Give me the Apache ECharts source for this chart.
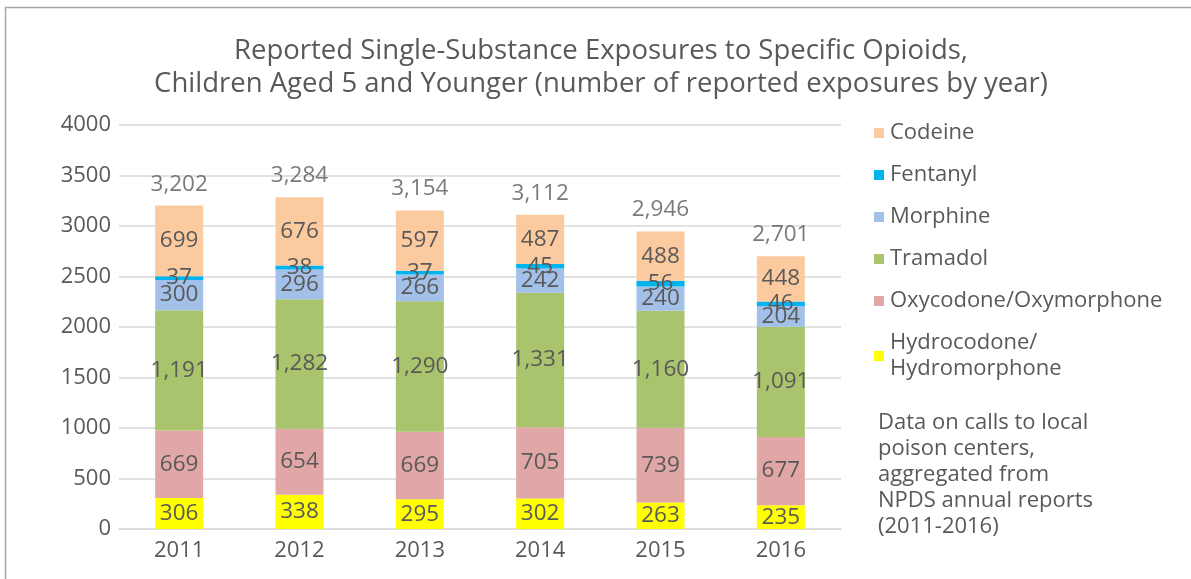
<!DOCTYPE html>
<html>
<head>
<meta charset="utf-8">
<script src="https://cdn.jsdelivr.net/npm/echarts@6/dist/echarts.min.js"></script>
<style>
  html, body { margin: 0; padding: 0; background: #fff; }
  #chart { width: 1191px; height: 579px; }
</style>
</head>
<body>
<div id="chart"></div>
<script>
// data
const years = ['2011', '2012', '2013', '2014', '2015', '2016']
const hydrocodone = [306, 338, 295, 302, 263, 235]
const oxycodone = [669, 654, 669, 705, 739, 677]
const tramadol = [1191, 1282, 1290, 1331, 1160, 1091]
const morphine = [300, 296, 266, 242, 240, 204]
const fentanyl = [37, 38, 37, 45, 56, 46]
const codeine = [699, 676, 597, 487, 488, 448]
const totals = [3202, 3284, 3154, 3112, 2946, 2701]
const yTicks = [0, 500, 1000, 1500, 2000, 2500, 3000, 3500, 4000]

const FONT = 'Open Sans'
const GREY = '#595959'

function fmt(v) {
  return v.toLocaleString('en-US')
}

function stackSeries(name, data, color) {
  return {
    name: name,
    type: 'bar',
    stack: 'total',
    barWidth: 48,
    data: data,
    itemStyle: { color: color },
    label: {
      show: true,
      position: 'inside',
      color: GREY,
      fontFamily: FONT,
      fontSize: 22.5,
      formatter: (p) => fmt(p.value),
    },
  }
}

const chart = echarts.init(document.getElementById('chart'))
chart.setOption({
  animation: false,
  textStyle: { fontFamily: FONT },
  title: {
    text: 'Reported Single-Substance Exposures to Specific Opioids,\nChildren Aged 5 and Younger (number of reported exposures by year)',
    left: 596,
    textAlign: 'center',
    top: 30,
    textStyle: { color: GREY, fontFamily: FONT, fontSize: 27.5, fontWeight: 'normal', lineHeight: 33 },
  },
  grid: { left: 119, right: 350, top: 125, bottom: 50 },
  legend: {
    orient: 'vertical',
    left: 869,
    top: 115,
    itemWidth: 10,
    itemHeight: 10,
    itemGap: 16,
    icon: 'rect',
    data: ['Codeine', 'Fentanyl', 'Morphine', 'Tramadol', 'Oxycodone/Oxymorphone', 'Hydrocodone/Hydromorphone'],
    formatter: (n) => (n === 'Hydrocodone/Hydromorphone' ? 'Hydrocodone/\nHydromorphone' : n),
    textStyle: { color: GREY, fontFamily: FONT, fontSize: 22, lineHeight: 26, padding: [0, 0, 0, 1] },
  },
  xAxis: {
    type: 'category',
    data: years,
    axisTick: { show: false },
    axisLine: { lineStyle: { color: '#D9D9D9', width: 1.5 } },
    axisLabel: { color: GREY, fontFamily: FONT, fontSize: 22, margin: 11 },
  },
  yAxis: {
    type: 'value',
    min: 0,
    max: 4000,
    interval: 500,
    axisLabel: { color: GREY, fontFamily: FONT, fontSize: 22, margin: 8,
      formatter: (v) => (yTicks.includes(v) ? String(v) : '') },
    splitLine: { lineStyle: { color: '#D9D9D9', width: 1.5 } },
  },
  graphic: [
    {
      type: 'rect',
      shape: { x: 5.5, y: 7.5, width: 1200, height: 620 },
      style: { fill: 'none', stroke: '#A6A6A6', lineWidth: 1.5 },
      silent: true,
    },
    {
      type: 'text',
      left: 878,
      top: 410,
      style: {
        text: 'Data on calls to local\npoison centers,\naggregated from\nNPDS annual reports\n(2011-2016)',
        fill: GREY,
        font: '22px ' + FONT,
        lineHeight: 26,
      },
    },
  ],
  series: [
    stackSeries('Hydrocodone/Hydromorphone', hydrocodone, '#FFFF00'),
    stackSeries('Oxycodone/Oxymorphone', oxycodone, '#E0A7A6'),
    stackSeries('Tramadol', tramadol, '#A9C46C'),
    stackSeries('Morphine', morphine, '#A3C1E8'),
    stackSeries('Fentanyl', fentanyl, '#00B5EF'),
    stackSeries('Codeine', codeine, '#FCCA9F'),
    {
      name: 'Total',
      type: 'scatter',
      data: totals,
      symbolSize: 0,
      label: {
        show: true,
        position: 'top',
        distance: 10,
        color: GREY,
        fontFamily: FONT,
        fontSize: 22.5,
        formatter: (p) => fmt(p.value),
      },
    },
  ],
})
</script>
</body>
</html>
